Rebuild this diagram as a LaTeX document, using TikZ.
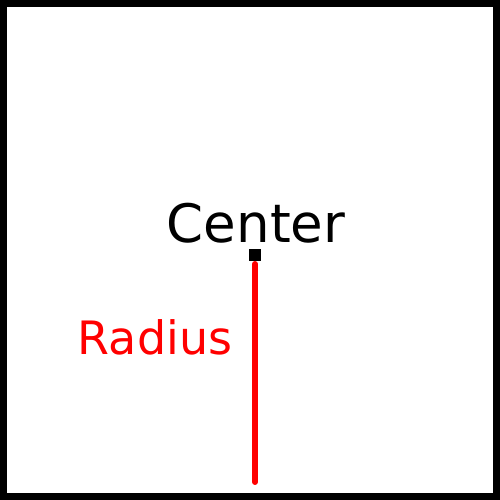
\documentclass[tikz,border=0pt]{standalone}
\usepackage{fontspec}
\setmainfont{DejaVu Sans}
\begin{document}
\begin{tikzpicture}[x=1pt,y=1pt,
  frame/.style={draw=black,line width=7pt},
  centerdot/.style={fill=black,minimum size=12pt,inner sep=0pt},
  radiusline/.style={draw=red,line width=6pt,line cap=round},
  bigtext/.style={inner sep=0pt,anchor=base}]
\useasboundingbox (0,0) rectangle (500,500);
\draw[frame] (3.5,3.5) rectangle (496.5,496.5);
\node[centerdot] (c) at (255,245) {};
\node[bigtext,font=\fontsize{53}{60}\selectfont] (ct) at (256,257) {Center};
\coordinate (rtop) at (255,236);
\coordinate (rbot) at (255,18);
\draw[radiusline] (rtop) -- (rbot);
\node[bigtext,text=red,font=\fontsize{46}{52}\selectfont] (rt) at (155,145) {Radius};
\end{tikzpicture}
\end{document}
